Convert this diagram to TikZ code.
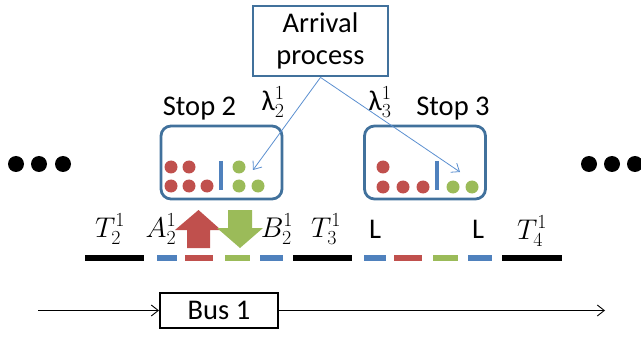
\RequirePackage{fix-cm}
\documentclass[tikz,border=0pt]{standalone}
\usepackage{fontspec}
\setmainfont{Carlito}
\usetikzlibrary{arrows.meta}
\definecolor{frameblue}{HTML}{41719C}
\definecolor{linkblue}{HTML}{5B8FD0}
\definecolor{segblue}{HTML}{4F81BD}
\definecolor{segred}{HTML}{C0504D}
\definecolor{seggreen}{HTML}{9BBB59}

\begin{document}
\begin{tikzpicture}[x=1pt,y=-1pt,thick,
          every node/.style={inner sep=0pt,font=\fontsize{28.5}{32}\selectfont},
          frame/.style={draw=frameblue,line width=2.8pt},
          seg/.style={line width=6pt},
          >={Straight Barb[length=7pt,width=11pt]}]
          \useasboundingbox(0,0)rectangle(641,337);
          \node[frame,minimum width=135,minimum height=70,align=center](arrival)at(320.5,41){Arrival\\process};
          \node[frame,rounded corners=10pt,minimum width=121,minimum height=73](stoptwo)at(221.5,162.5){};
          \node[frame,rounded corners=10pt,minimum width=121,minimum height=73](stopthree)at(425,162.5){};
          \node(stoptwolbl)at(199.5,109){Stop 2};
          \node(stopthreelbl)at(453,109){Stop 3};
          \node(lamtwo)at(273,102){λ$_2^1$};
          \node(lamthree)at(380,102){λ$_3^1$};
          \coordinate(tiptwo)at(253,170);
          \coordinate(tipthree)at(460,172);
          \draw[->,linkblue,line width=0.8pt](arrival.south)--(tiptwo);
          \draw[->,linkblue,line width=0.8pt](arrival.south)--(tipthree);
          % passengers waiting at the stops
          \foreach \x/\y in {171/167,189/167,171/186,189/186,207/186,383/167,383/187,403/187,423/187}
            \fill[segred](\x,\y)circle(6.5pt);
          \foreach \x/\y in {239/167,239/186,258/186,453/187,472/187}
            \fill[seggreen](\x,\y)circle(6.5pt);
          \draw[segblue,line width=4pt](221,161)--(221,190)(437,161)--(437,190);
          \foreach \x in {16,39,63,589,612,635}
            \fill(\x,164)circle(8pt);
          \node(ttwo)at(110,229){$T_2^1$};
          \node(atwo)at(161,229){$A_2^1$};
          \node(btwo)at(277,229){$B_2^1$};
          \node(tthree)at(326,229){$T_3^1$};
          \node(lone)at(375,229){L};
          \node(ltwo)at(478,229){L};
          \node(tfour)at(532,231){$T_4^1$};
          \fill[segred](187,248)--(187,230)--(175,230)--(198.5,210)--(221,230)--(210,230)--(210,248)--cycle;
          \fill[seggreen](228,210)--(252,210)--(252,228)--(263,228)--(240,248)--(217,228)--(228,228)--cycle;
          % the route, stop by stop
          \draw[seg](85,258)--(144,258)(293,258)--(352,258)(502,258)--(562,258);
          \draw[seg,segblue](157,258)--(177,258)(260,258)--(283,258)(364,258)--(386,258)(468,258)--(492,258);
          \draw[seg,segred](185,258)--(213,258)(394,258)--(422,258);
          \draw[seg,seggreen](225,258)--(250,258)(433,258)--(458,258);
          \node[draw,line width=2pt,minimum width=118,minimum height=35](bus)at(219,310.5){Bus 1};
          \coordinate(busin)at(38,310.5);
          \coordinate(busout)at(605,310.5);
          \draw[->,line width=0.9pt](busin)--(bus.west);
          \draw[->,line width=0.9pt](bus.east)--(busout);
        \end{tikzpicture}
\end{document}
